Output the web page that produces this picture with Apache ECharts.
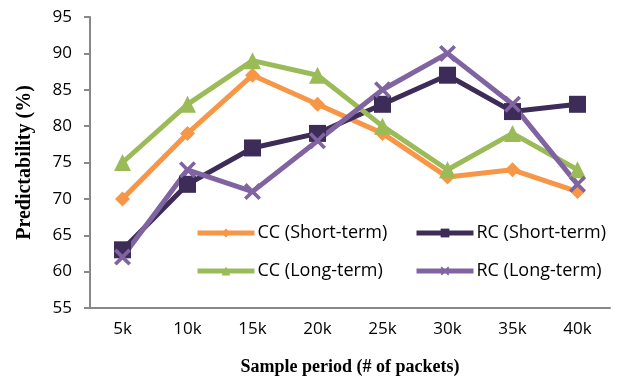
<!DOCTYPE html>
<html><head><meta charset="utf-8">
<script src="https://cdn.jsdelivr.net/npm/echarts@6/dist/echarts.min.js"></script>
<style>html,body{margin:0;padding:0;background:#fff}#c{width:623px;height:379px}</style>
</head><body><div id="c"></div>
<script>
const categories = ['5k','10k','15k','20k','25k','30k','35k','40k'];
const ccShort = [70, 79, 87, 83, 79, 73, 74, 71];
const rcShort = [63, 72, 77, 79, 83, 87, 82, 83];
const ccLong  = [75, 83, 89, 87, 80, 74, 79, 74];
const rcLong  = [62, 74, 71, 78, 85, 90, 83, 72];
const seriesNames = ['CC (Short-term)','RC (Short-term)','CC (Long-term)','RC (Long-term)'];

const xPath = 'path://M1.5,0L5,3.5L8.5,0L10,1.5L6.5,5L10,8.5L8.5,10L5,6.5L1.5,10L0,8.5L3.5,5L0,1.5Z';
const font = '"Open Sans", sans-serif';
const chart = echarts.init(document.getElementById('c'));
function mk(name, data, color, symbol, size){
  return {name, type:'line', data, symbol, symbolSize:size, showAllSymbol:true,
    lineStyle:{color, width:5}, itemStyle:{color}, color, z:2};
}
function lg(name, left, top){
  return {data:[name], left, top, itemWidth:57, itemHeight:11, itemGap:0,
    lineStyle:{width:5},
    textStyle:{fontFamily:font, fontSize:18, color:'#000', padding:[0,0,0,-2]},
    selectedMode:false, padding:0};
}
chart.setOption({
  animation:false,
  grid:{left:90, right:13, top:17, bottom:71, outerBoundsMode:'none', containLabel:false},
  legend:[lg(seriesNames[0],195,224), lg(seriesNames[1],414,224), lg(seriesNames[2],195,262), lg(seriesNames[3],414,262)],
  xAxis:{type:'category', data:categories, boundaryGap:true,
    axisLine:{lineStyle:{color:'#888', width:2}}, axisTick:{show:false},
    axisLabel:{fontFamily:font, fontSize:17, color:'#000', margin:13},
    name:'Sample period (# of packets)', nameLocation:'middle', nameGap:50,
    nameTextStyle:{fontFamily:'"Liberation Serif", serif', fontWeight:'bold', fontSize:18, color:'#000'}},
  yAxis:{type:'value', min:55, max:95, interval:5,
    axisLine:{show:true, lineStyle:{color:'#888', width:2}},
    axisTick:{show:true, inside:false, length:6, lineStyle:{color:'#888', width:2}},
    splitLine:{show:false},
    axisLabel:{fontFamily:font, fontSize:17, color:'#000', margin:18},
    name:'Predictability (%)', nameLocation:'middle', nameGap:55,
    nameTextStyle:{fontFamily:'"Liberation Serif", serif', fontWeight:'bold', fontSize:20, color:'#000'}},
  series:[
    mk(seriesNames[0], ccShort, '#F79646', 'diamond', 15),
    mk(seriesNames[1], rcShort, '#3D2C57', 'rect', 17),
    mk(seriesNames[2], ccLong, '#9BBB59', 'triangle', 17),
    mk(seriesNames[3], rcLong, '#8064A2', xPath, 17)
  ]
});
</script></body></html>
